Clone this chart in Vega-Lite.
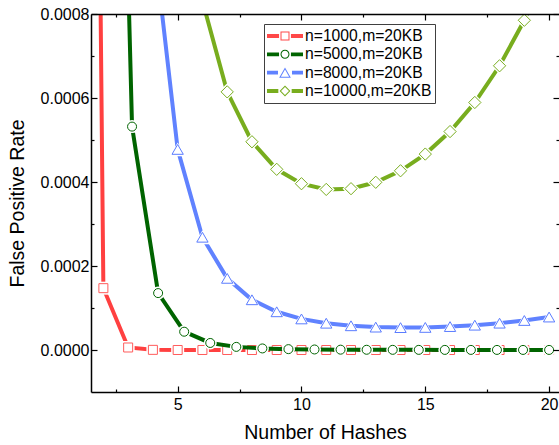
{
  "$schema": "https://vega.github.io/schema/vega-lite/v6.json",
  "width": 468,
  "height": 378,
  "autosize": {"type": "none"},
  "padding": {"left": 91, "top": 14, "right": 0, "bottom": 53},
  "config": {"view": {"stroke": null}, "font": "Liberation Sans"},
  "data": {
    "values": [
      {"s": "n=1000,m=20KB", "k": 1, "fpr": 0.0060849},
      {"s": "n=1000,m=20KB", "k": 2, "fpr": 0.00014721},
      {"s": "n=1000,m=20KB", "k": 3, "fpr": 0.000005973},
      {"s": "n=1000,m=20KB", "k": 4, "fpr": 3.383e-7},
      {"s": "n=1000,m=20KB", "k": 5, "fpr": 2.43e-8},
      {"s": "n=1000,m=20KB", "k": 6, "fpr": 2.15e-9},
      {"s": "n=1000,m=20KB", "k": 7, "fpr": 2.2e-10},
      {"s": "n=1000,m=20KB", "k": 8, "fpr": 2.7e-11},
      {"s": "n=1000,m=20KB", "k": 9, "fpr": 4e-12},
      {"s": "n=1000,m=20KB", "k": 10, "fpr": 6e-13},
      {"s": "n=1000,m=20KB", "k": 11, "fpr": 1e-13},
      {"s": "n=1000,m=20KB", "k": 12, "fpr": 2e-14},
      {"s": "n=1000,m=20KB", "k": 13, "fpr": 4e-15},
      {"s": "n=1000,m=20KB", "k": 14, "fpr": 8e-16},
      {"s": "n=1000,m=20KB", "k": 15, "fpr": 2e-16},
      {"s": "n=1000,m=20KB", "k": 16, "fpr": 4e-17},
      {"s": "n=1000,m=20KB", "k": 17, "fpr": 1e-17},
      {"s": "n=1000,m=20KB", "k": 18, "fpr": 2e-18},
      {"s": "n=1000,m=20KB", "k": 19, "fpr": 6e-19},
      {"s": "n=1000,m=20KB", "k": 20, "fpr": 1e-19},
      {"s": "n=5000,m=20KB", "k": 1.0526, "fpr": 0.02636},
      {"s": "n=5000,m=20KB", "k": 2.1053, "fpr": 0.002891},
      {"s": "n=5000,m=20KB", "k": 3.1579, "fpr": 0.0005319},
      {"s": "n=5000,m=20KB", "k": 4.2105, "fpr": 0.0001355},
      {"s": "n=5000,m=20KB", "k": 5.2632, "fpr": 0.00004355},
      {"s": "n=5000,m=20KB", "k": 6.3158, "fpr": 0.00001676},
      {"s": "n=5000,m=20KB", "k": 7.3684, "fpr": 0.00000744},
      {"s": "n=5000,m=20KB", "k": 8.4211, "fpr": 0.00000372},
      {"s": "n=5000,m=20KB", "k": 9.4737, "fpr": 0.00000206},
      {"s": "n=5000,m=20KB", "k": 10.5263, "fpr": 0.00000124},
      {"s": "n=5000,m=20KB", "k": 11.5789, "fpr": 8.05e-7},
      {"s": "n=5000,m=20KB", "k": 12.6316, "fpr": 5.58e-7},
      {"s": "n=5000,m=20KB", "k": 13.6842, "fpr": 4.09e-7},
      {"s": "n=5000,m=20KB", "k": 14.7368, "fpr": 3.16e-7},
      {"s": "n=5000,m=20KB", "k": 15.7895, "fpr": 2.55e-7},
      {"s": "n=5000,m=20KB", "k": 16.8421, "fpr": 2.15e-7},
      {"s": "n=5000,m=20KB", "k": 17.8947, "fpr": 1.87e-7},
      {"s": "n=5000,m=20KB", "k": 18.9474, "fpr": 1.69e-7},
      {"s": "n=5000,m=20KB", "k": 20, "fpr": 1.57e-7},
      {"s": "n=8000,m=20KB", "k": 1, "fpr": 0.047655},
      {"s": "n=8000,m=20KB", "k": 2, "fpr": 0.008656},
      {"s": "n=8000,m=20KB", "k": 3, "fpr": 0.0025299},
      {"s": "n=8000,m=20KB", "k": 4, "fpr": 0.00099101},
      {"s": "n=8000,m=20KB", "k": 5, "fpr": 0.0004776},
      {"s": "n=8000,m=20KB", "k": 6, "fpr": 0.0002685},
      {"s": "n=8000,m=20KB", "k": 7, "fpr": 0.0001706},
      {"s": "n=8000,m=20KB", "k": 8, "fpr": 0.0001196},
      {"s": "n=8000,m=20KB", "k": 9, "fpr": 0.000091},
      {"s": "n=8000,m=20KB", "k": 10, "fpr": 0.000074},
      {"s": "n=8000,m=20KB", "k": 11, "fpr": 0.0000638},
      {"s": "n=8000,m=20KB", "k": 12, "fpr": 0.0000577},
      {"s": "n=8000,m=20KB", "k": 13, "fpr": 0.0000545},
      {"s": "n=8000,m=20KB", "k": 14, "fpr": 0.0000533},
      {"s": "n=8000,m=20KB", "k": 15, "fpr": 0.0000538},
      {"s": "n=8000,m=20KB", "k": 16, "fpr": 0.0000558},
      {"s": "n=8000,m=20KB", "k": 17, "fpr": 0.0000591},
      {"s": "n=8000,m=20KB", "k": 18, "fpr": 0.0000639},
      {"s": "n=8000,m=20KB", "k": 19, "fpr": 0.0000703},
      {"s": "n=8000,m=20KB", "k": 20, "fpr": 0.0000785},
      {"s": "n=10000,m=20KB", "k": 1, "fpr": 0.05921},
      {"s": "n=10000,m=20KB", "k": 2, "fpr": 0.013206},
      {"s": "n=10000,m=20KB", "k": 3, "fpr": 0.004684},
      {"s": "n=10000,m=20KB", "k": 4, "fpr": 0.002203},
      {"s": "n=10000,m=20KB", "k": 5, "fpr": 0.001257},
      {"s": "n=10000,m=20KB", "k": 6, "fpr": 0.000831},
      {"s": "n=10000,m=20KB", "k": 7, "fpr": 0.0006146},
      {"s": "n=10000,m=20KB", "k": 8, "fpr": 0.0004958},
      {"s": "n=10000,m=20KB", "k": 9, "fpr": 0.0004302},
      {"s": "n=10000,m=20KB", "k": 10, "fpr": 0.0003959},
      {"s": "n=10000,m=20KB", "k": 11, "fpr": 0.0003823},
      {"s": "n=10000,m=20KB", "k": 12, "fpr": 0.0003841},
      {"s": "n=10000,m=20KB", "k": 13, "fpr": 0.0003993},
      {"s": "n=10000,m=20KB", "k": 14, "fpr": 0.0004267},
      {"s": "n=10000,m=20KB", "k": 15, "fpr": 0.0004665},
      {"s": "n=10000,m=20KB", "k": 16, "fpr": 0.0005201},
      {"s": "n=10000,m=20KB", "k": 17, "fpr": 0.0005893},
      {"s": "n=10000,m=20KB", "k": 18, "fpr": 0.0006767},
      {"s": "n=10000,m=20KB", "k": 19, "fpr": 0.0007851},
      {"s": "n=10000,m=20KB", "k": 20, "fpr": 0.0009191}
    ]
  },
  "encoding": {
    "x": {"field": "k", "type": "quantitative", "scale": {"domain": [1.5, 20.4], "nice": false, "zero": false}, "axis": null},
    "y": {"field": "fpr", "type": "quantitative", "scale": {"domain": [-0.0001, 0.0008], "nice": false, "zero": false}, "axis": null}
  },
  "layer": [
    {
      "transform": [{"filter": {"field": "s", "equal": "n=1000,m=20KB"}}],
      "mark": {"type": "line", "color": "#FF4040", "strokeWidth": 4, "clip": true},
      "encoding": {
        "x": {"field": "k", "type": "quantitative", "scale": {"domain": [1.5, 20.4], "nice": false, "zero": false},
          "axis": {"orient": "bottom", "values": [5, 10, 15, 20], "tickSize": -6, "tickColor": "black", "tickWidth": 1.2, "domain": true, "domainColor": "black", "domainWidth": 1.5, "grid": false, "zindex": 1, "labelFontSize": 16, "labelColor": "black", "labelPadding": 10, "labelFlush": false, "title": "Number of Hashes", "titleFontSize": 19.5, "titleFontWeight": "normal", "titleColor": "black", "titlePadding": 11}},
        "y": {"field": "fpr", "type": "quantitative", "scale": {"domain": [-0.0001, 0.0008], "nice": false, "zero": false},
          "axis": {"orient": "left", "values": [0, 0.0002, 0.0004, 0.0006, 0.0008], "format": ".4f", "tickSize": -6, "tickColor": "black", "tickWidth": 1.2, "domain": true, "domainColor": "black", "domainWidth": 1.5, "grid": false, "zindex": 1, "labelFontSize": 16, "labelColor": "black", "labelPadding": 8, "labelFlush": false, "labelOverlap": false, "title": "False Positive Rate", "titleFontSize": 19.5, "titleFontWeight": "normal", "titleColor": "black", "titlePadding": 13}}
      }
    },
    {
      "transform": [{"filter": {"field": "s", "equal": "n=1000,m=20KB"}}],
      "mark": {"type": "point", "shape": "square", "size": 169, "filled": true, "color": "white", "opacity": 1, "strokeWidth": 0, "clip": true},
      "encoding": {
        "x": {"field": "k", "type": "quantitative", "scale": {"domain": [1.5, 20.4], "nice": false, "zero": false},
          "axis": {"orient": "top", "values": [5, 10, 15, 20], "tickSize": -6, "tickColor": "black", "tickWidth": 1.2, "domain": true, "domainColor": "black", "domainWidth": 1.5, "grid": false, "zindex": 1, "labels": false, "title": null}},
        "y": {"field": "fpr", "type": "quantitative", "scale": {"domain": [-0.0001, 0.0008], "nice": false, "zero": false},
          "axis": {"orient": "right", "values": [0, 0.0002, 0.0004, 0.0006, 0.0008], "tickSize": -6, "tickColor": "black", "tickWidth": 1.2, "domain": false, "grid": false, "zindex": 1, "labels": false, "title": null}}
      }
    },
    {
      "transform": [{"filter": {"field": "s", "equal": "n=1000,m=20KB"}}],
      "mark": {"type": "point", "shape": "square", "size": 81, "filled": true, "fill": "white", "stroke": "#FF5C5C", "strokeWidth": 1, "opacity": 1, "clip": true},
      "encoding": {
        "x": {"field": "k", "type": "quantitative", "scale": {"domain": [1.5, 20.4], "nice": false, "zero": false},
          "axis": {"orient": "bottom", "values": [2.5, 7.5, 12.5, 17.5], "tickSize": -3, "tickColor": "black", "tickWidth": 1.2, "domain": false, "grid": false, "zindex": 1, "labels": false, "title": null}},
        "y": {"field": "fpr", "type": "quantitative", "scale": {"domain": [-0.0001, 0.0008], "nice": false, "zero": false},
          "axis": {"orient": "left", "values": [0.0001, 0.0003, 0.0005, 0.0007], "tickSize": -3, "tickColor": "black", "tickWidth": 1.2, "domain": false, "grid": false, "zindex": 1, "labels": false, "title": null}}
      }
    },
    {
      "transform": [{"filter": {"field": "s", "equal": "n=5000,m=20KB"}}],
      "mark": {"type": "line", "color": "#006400", "strokeWidth": 4, "clip": true},
      "encoding": {
        "x": {"field": "k", "type": "quantitative", "scale": {"domain": [1.5, 20.4], "nice": false, "zero": false},
          "axis": {"orient": "top", "values": [2.5, 7.5, 12.5, 17.5], "tickSize": -3, "tickColor": "black", "tickWidth": 1.2, "domain": false, "grid": false, "zindex": 1, "labels": false, "title": null}},
        "y": {"field": "fpr", "type": "quantitative", "scale": {"domain": [-0.0001, 0.0008], "nice": false, "zero": false},
          "axis": {"orient": "right", "values": [0.0001, 0.0003, 0.0005, 0.0007], "tickSize": -3, "tickColor": "black", "tickWidth": 1.2, "domain": false, "grid": false, "zindex": 1, "labels": false, "title": null}}
      }
    },
    {
      "transform": [{"filter": {"field": "s", "equal": "n=5000,m=20KB"}}],
      "mark": {"type": "point", "shape": "circle", "size": 169, "filled": true, "color": "white", "opacity": 1, "strokeWidth": 0, "clip": true}
    },
    {
      "transform": [{"filter": {"field": "s", "equal": "n=5000,m=20KB"}}],
      "mark": {"type": "point", "shape": "circle", "size": 81, "filled": true, "fill": "white", "stroke": "#006400", "strokeWidth": 1, "opacity": 1, "clip": true}
    },
    {
      "transform": [{"filter": {"field": "s", "equal": "n=8000,m=20KB"}}],
      "mark": {"type": "line", "color": "#6082FF", "strokeWidth": 4, "clip": true}
    },
    {
      "transform": [{"filter": {"field": "s", "equal": "n=8000,m=20KB"}}],
      "mark": {"type": "point", "shape": "triangle-up", "size": 256, "filled": true, "color": "white", "opacity": 1, "strokeWidth": 0, "clip": true}
    },
    {
      "transform": [{"filter": {"field": "s", "equal": "n=8000,m=20KB"}}],
      "mark": {"type": "point", "shape": "triangle-up", "size": 128, "filled": true, "fill": "white", "stroke": "#5A7CFF", "strokeWidth": 1, "opacity": 1, "clip": true}
    },
    {
      "transform": [{"filter": {"field": "s", "equal": "n=10000,m=20KB"}}],
      "mark": {"type": "line", "color": "#78AD1E", "strokeWidth": 4, "clip": true}
    },
    {
      "transform": [{"filter": {"field": "s", "equal": "n=10000,m=20KB"}}],
      "mark": {"type": "point", "shape": "diamond", "size": 289, "filled": true, "color": "white", "opacity": 1, "strokeWidth": 0, "clip": true}
    },
    {
      "transform": [{"filter": {"field": "s", "equal": "n=10000,m=20KB"}}],
      "mark": {"type": "point", "shape": "diamond", "size": 150, "filled": true, "fill": "white", "stroke": "#78AD1E", "strokeWidth": 1, "opacity": 1, "clip": true}
    },
    {
      "transform": [{"filter": "false"}],
      "mark": {"type": "point", "filled": true, "opacity": 1},
      "encoding": {
        "color": {"field": "s", "type": "nominal",
          "scale": {"domain": ["n=1000,m=20KB", "n=5000,m=20KB", "n=8000,m=20KB", "n=10000,m=20KB"], "range": ["#FF4848", "#006400", "#6082FF", "#78AD1E"]},
          "legend": {"title": null, "orient": "none", "legendX": 173, "legendY": 10, "symbolSize": 1296, "clipHeight": 18, "rowPadding": 0.33, "labelFontSize": 15.7, "labelColor": "black", "labelOffset": 2, "padding": 3, "strokeColor": "#404040", "fillColor": "white", "symbolStrokeWidth": 0, "symbolOpacity": 1, "labelLimit": 300, "cornerRadius": 0, "symbolOffset": 0}},
        "shape": {"field": "s", "type": "nominal",
          "scale": {"domain": ["n=1000,m=20KB", "n=5000,m=20KB", "n=8000,m=20KB", "n=10000,m=20KB"],
            "range": [
              "M-1,-0.105H-0.33V0.105H-1Z M0.33,-0.105H1V0.105H0.33Z M-0.25,-0.25H0.25V0.25H-0.25Z M-0.194,-0.194V0.194H0.194V-0.194Z",
              "M-1,-0.105H-0.33V0.105H-1Z M0.33,-0.105H1V0.105H0.33Z M0.25,0A0.25,0.25 0 1 1 -0.25,0A0.25,0.25 0 1 1 0.25,0Z M0.194,0A0.194,0.194 0 1 0 -0.194,0A0.194,0.194 0 1 0 0.194,0Z",
              "M-1,-0.105H-0.39V0.105H-1Z M0.39,-0.105H1V0.105H0.39Z M0,-0.281L0.325,0.281L-0.325,0.281Z M0,-0.17L-0.2285,0.2255L0.2285,0.2255Z",
              "M-1,-0.105H-0.37V0.105H-1Z M0.37,-0.105H1V0.105H0.37Z M0,-0.3L0.3,0L0,0.3L-0.3,0Z M0,-0.221L-0.221,0L0,0.221L0.221,0Z"
            ]},
          "legend": {"title": null, "orient": "none", "legendX": 173, "legendY": 10, "symbolSize": 1296, "clipHeight": 18, "rowPadding": 0.33, "labelFontSize": 15.7, "labelColor": "black", "labelOffset": 2, "padding": 3, "strokeColor": "#404040", "fillColor": "white", "symbolStrokeWidth": 0, "symbolOpacity": 1, "labelLimit": 300, "cornerRadius": 0, "symbolOffset": 0}}
      }
    }
  ],
  "resolve": {"axis": {"x": "independent", "y": "independent"}}
}
